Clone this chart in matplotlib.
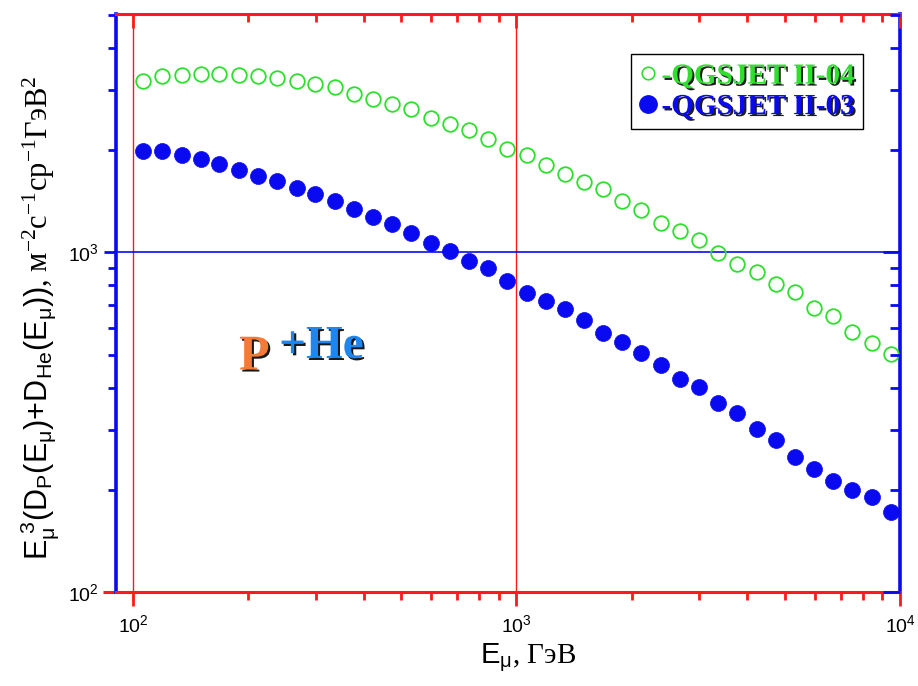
import matplotlib
matplotlib.use('Agg')
import matplotlib.pyplot as plt
import matplotlib.patheffects as pe
from matplotlib.lines import Line2D
from matplotlib.ticker import LogLocator, NullFormatter

plt.rcParams['font.family'] = ['Liberation Sans', 'DejaVu Sans']
plt.rcParams['mathtext.fontset'] = 'custom'
plt.rcParams['mathtext.rm'] = 'Liberation Serif'
plt.rcParams['mathtext.sf'] = 'Liberation Sans'
plt.rcParams['mathtext.it'] = 'Liberation Sans:italic'

# энергия мюона, ГэВ
e_mu = [106, 119, 134, 150, 168, 189, 212, 238, 267, 299,
        336, 377, 423, 474, 532, 597, 670, 752, 843, 946,
        1062, 1191, 1337, 1500, 1683, 1888, 2118, 2377, 2667, 2992,
        3357, 3767, 4227, 4742, 5321, 5970, 6699, 7516, 8433, 9462]

# QGSJET II-04 (открытые кружки)
qgs04 = [3206, 3304, 3332, 3362, 3362, 3332, 3311, 3259, 3194, 3136,
         3066, 2936, 2832, 2732, 2641, 2485, 2386, 2291, 2160, 2021,
         1937, 1814, 1707, 1616, 1535, 1421, 1334, 1219, 1157, 1088,
         999, 923, 878, 808, 766, 685, 651, 582, 540, 501]

# QGSJET II-03 (закрашенные кружки)
qgs03 = [1995, 1987, 1937, 1882, 1826, 1753, 1684, 1627, 1552, 1484,
         1421, 1346, 1275, 1216, 1139, 1069, 1010, 944, 898, 826,
         761, 720, 680, 633, 580, 545, 505, 465, 425, 402,
         360, 336, 303, 280, 250, 230, 212, 200, 190, 172]

labels = ['-QGSJET II-04', '-QGSJET II-03']

green = '#2ee02e'
blue = '#0a0af0'
red = '#ff1a1a'

XLIM = (90.3, 1.0e4)
YLIM = (100, 5040)

fig = plt.figure(figsize=(9.18, 6.86), dpi=100)
ax = fig.add_axes([116 / 918, 1 - 592 / 686, 784 / 918, 578 / 686])

ax.set_xscale('log')
ax.set_yscale('log')
ax.set_xlim(*XLIM)
ax.set_ylim(*YLIM)

# линии-ориентиры
ax.axvline(100, color=red, lw=1.0, zorder=1)
ax.axvline(1000, color=red, lw=1.0, zorder=1)
ax.axhline(1000, color=blue, lw=1.2, zorder=1)

ax.plot(e_mu, qgs04, 'o', ms=10.5, mfc='none', mec=green, mew=1.3, zorder=3)
ax.plot(e_mu, qgs03, 'o', ms=11.5, mfc=blue, mec=blue, mew=0.5, zorder=3)

# оси
for s in ['bottom', 'top']:
    ax.spines[s].set_color(red)
    ax.spines[s].set_linewidth(2.2)
for s in ['left', 'right']:
    ax.spines[s].set_color(blue)
    ax.spines[s].set_linewidth(2.6)
# нижняя ось чуть выступает влево
ax.plot([-0.017, 0], [0, 0], transform=ax.transAxes, color=red, lw=2.2,
        clip_on=False, solid_capstyle='butt')


def set_log_ticks(axis):
    axis.set_major_locator(LogLocator(base=10, numticks=10))
    axis.set_minor_locator(LogLocator(base=10, subs=range(2, 10), numticks=20))
    axis.set_minor_formatter(NullFormatter())


set_log_ticks(ax.xaxis)
set_log_ticks(ax.yaxis)
ax.tick_params(axis='x', which='both', colors=red, labelcolor='black',
               direction='out', labelsize=14, pad=6)
ax.tick_params(axis='x', which='major', length=10, width=2)
ax.tick_params(axis='x', which='minor', length=6, width=2)
ax.tick_params(axis='y', which='both', colors=blue, labelcolor='black',
               direction='out', labelsize=14)
ax.tick_params(axis='y', which='major', length=9, width=2)
ax.tick_params(axis='y', which='minor', length=6, width=2)

# верхние и правые риски внутрь
axt = ax.twiny()
axt.set_xscale('log')
axt.set_xlim(*XLIM)
set_log_ticks(axt.xaxis)
axt.tick_params(axis='x', which='both', colors=red, direction='in', labeltop=False, width=2)
axt.tick_params(axis='x', which='major', length=10)
axt.tick_params(axis='x', which='minor', length=6)
axr = ax.twinx()
axr.set_yscale('log')
axr.set_ylim(*YLIM)
set_log_ticks(axr.yaxis)
axr.tick_params(axis='y', which='both', colors=blue, direction='in', labelright=False, width=2)
axr.tick_params(axis='y', which='major', length=12)
axr.tick_params(axis='y', which='minor', length=7)
for a in (axt, axr):
    for s in a.spines.values():
        s.set_visible(False)

ax.set_xlabel(r'$\mathsf{E_{\mu}}$, ГэВ', fontsize=21,
              family=['Liberation Serif'], labelpad=2)
ax.xaxis.set_label_coords(0.525, -0.085)
ax.set_ylabel(r'$\mathsf{E_{\mu}^{\ 3}(D_{P}(E_{\mu}){+}D_{He}(E_{\mu}))}$, '
              r'$\mathrm{м^{-2}с^{-1}ср^{-1}ГэВ^{2}}$',
              fontsize=22, family=['Liberation Serif'], labelpad=4)
ax.yaxis.set_label_coords(-0.07, 0.475)

# подпись P+He
shadow = [pe.SimplePatchShadow(offset=(1.5, -1.5), shadow_rgbFace='black', alpha=0.9),
          pe.Normal()]
ax.text(0.157, 0.385, 'P', transform=ax.transAxes, color='#f47a3a',
        fontsize=36, fontweight='bold', family='Liberation Serif',
        path_effects=shadow, zorder=5)
ax.text(0.208, 0.405, '+He', transform=ax.transAxes, color='#1e86f0',
        fontsize=34, fontweight='bold', family='Liberation Serif',
        path_effects=shadow, zorder=5)

handles = [Line2D([], [], ls='none', marker='o', ms=9, mfc='none', mec=green, mew=1.2),
           Line2D([], [], ls='none', marker='o', ms=12.5, mfc=blue, mec=blue)]
leg = axr.legend(handles, labels, loc='upper right', bbox_to_anchor=(0.953, 0.931),
                 prop={'family': 'Liberation Serif', 'weight': 'bold', 'size': 21},
                 labelcolor=[green, blue], fancybox=False, edgecolor='black',
                 framealpha=1, handlelength=0.6, handletextpad=0.15,
                 borderpad=0.3, labelspacing=0.12, borderaxespad=0)
leg.get_frame().set_linewidth(1.0)
for t in leg.get_texts():
    t.set_path_effects([pe.SimplePatchShadow(offset=(1.4, -1.4), shadow_rgbFace='#101010',
                                             alpha=0.95), pe.Normal()])

fig.savefig('out.png', dpi=100)
